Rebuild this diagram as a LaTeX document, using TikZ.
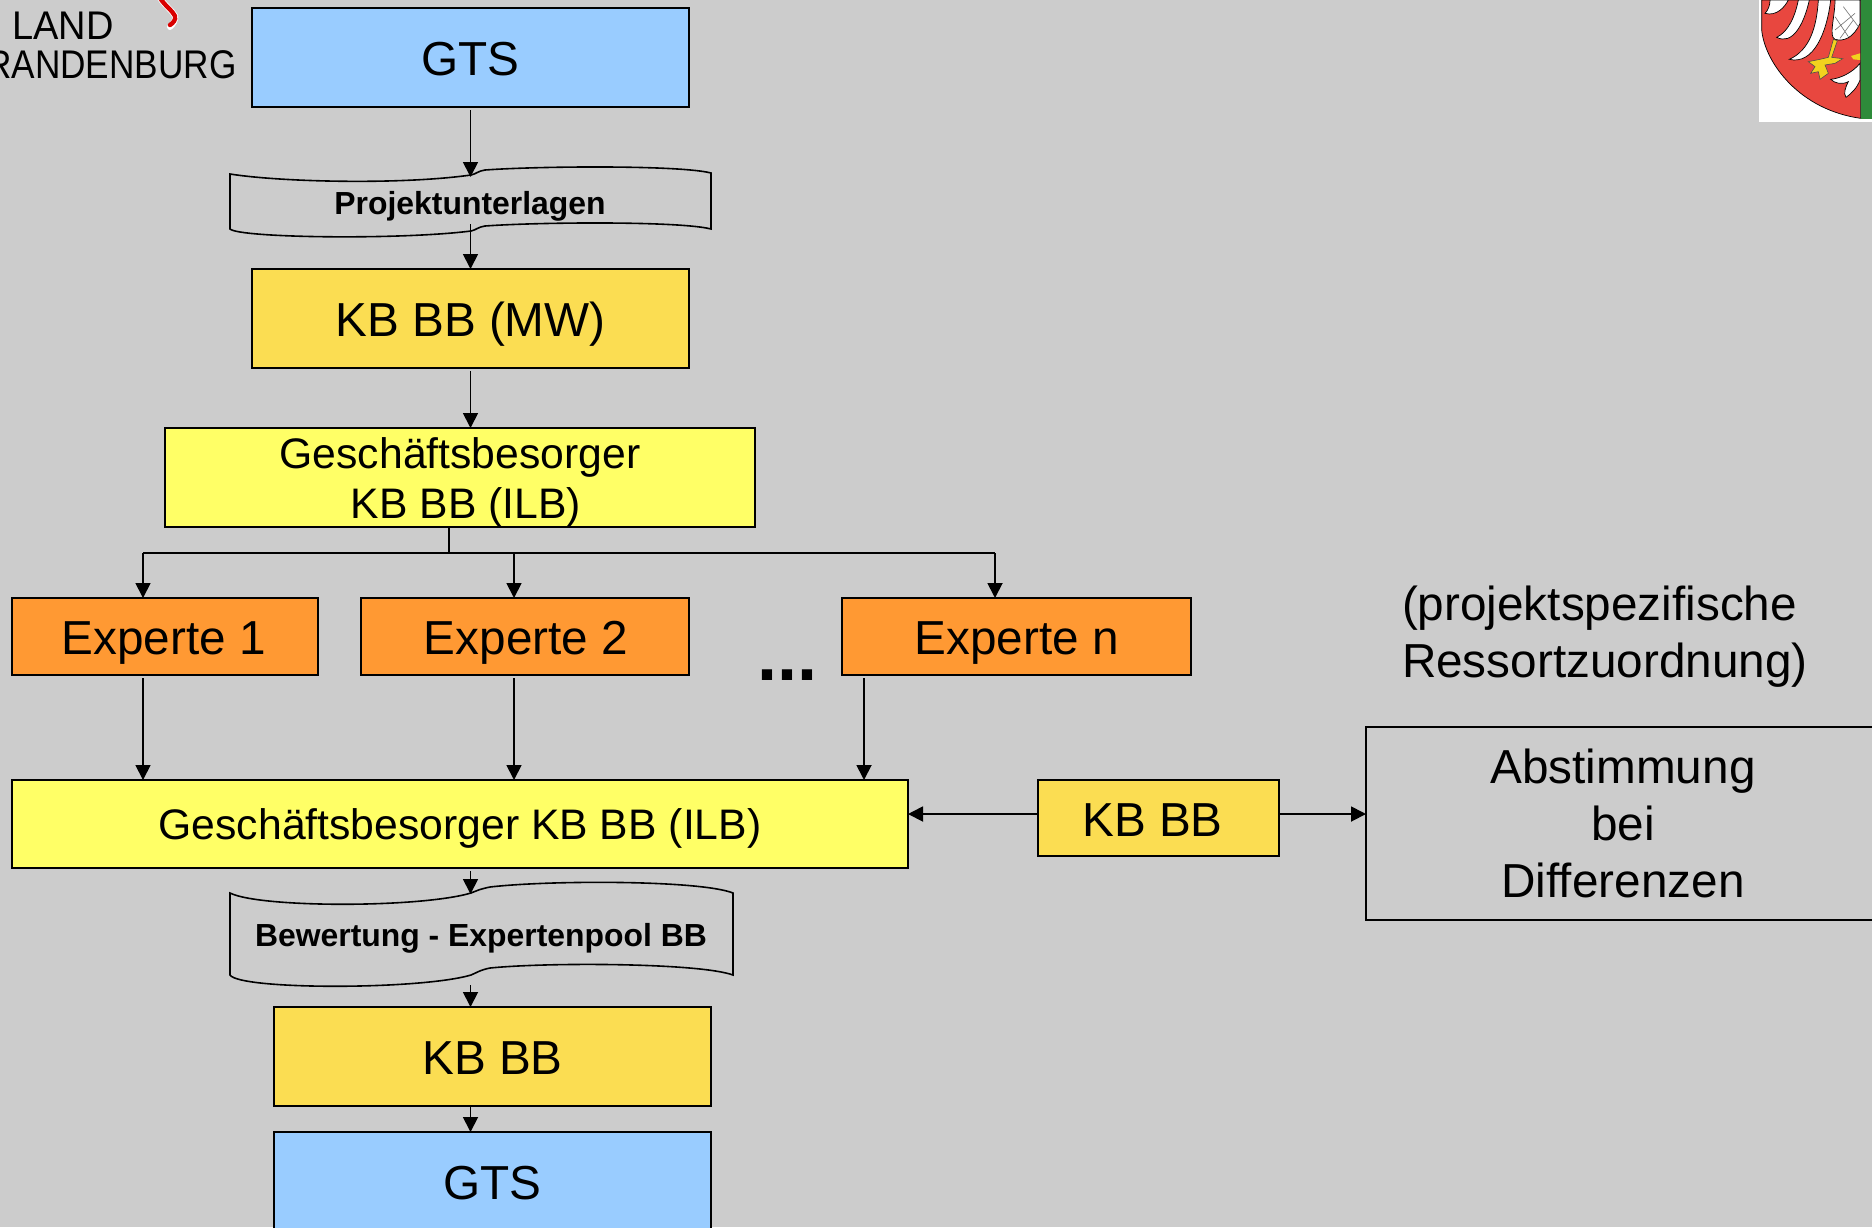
\documentclass[tikz,border=0pt]{standalone}
\usepackage{fontspec}
\usepackage{graphicx}
\setmainfont{Liberation Sans}
\usetikzlibrary{arrows.meta}
\definecolor{bgc}{HTML}{CCCCCC}
\definecolor{blueb}{HTML}{99CCFF}
\definecolor{goldb}{HTML}{FBDD52}
\definecolor{yelb}{HTML}{FFFF66}
\definecolor{orab}{HTML}{FF9933}
\definecolor{shieldred}{HTML}{E8473F}
\definecolor{shieldgreen}{HTML}{2E8B3A}
\definecolor{clawy}{HTML}{F2D21E}
\newcommand{\fsz}[1]{\fontsize{#1}{#1}\selectfont}
\tikzset{
  x=0.5pt,y=-0.5pt,
  box/.style={draw=black,line width=1pt,outer sep=0pt,inner sep=0pt,align=center,font=\fsz{23.85}},
  onebox/.style={box,text height=18.3pt,text depth=0pt},
  gbbox/.style={box,font=\fsz{21.35}},
  plain/.style={inner sep=0pt,outer sep=0pt,align=left,font=\fsz{23.85}},
  wavel/.style={inner sep=0pt,outer sep=0pt,font=\bfseries\fsz{15.95}},
  wave/.style={draw=black,line width=0.8pt},
  arr/.style={draw=black,line width=0.9pt,-{Triangle[length=7.5pt,width=7.5pt]}},
  dbl/.style={draw=black,line width=0.9pt},
  feather/.style={fill=white,draw=black,line width=0.35pt},
}
\begin{document}
\begin{tikzpicture}
\useasboundingbox (0,0) rectangle (1872,1227);
\fill[bgc] (0,0) rectangle (1872,1227);

% logo
\node[inner sep=0pt,anchor=base] (land) at (63,39) {\fsz{20}\scalebox{0.95}[1]{LAND}};
\node[inner sep=0pt,anchor=base east] (brand) at (237,78) {\fsz{20}\scalebox{0.88}[1]{BRANDENBURG}};
\draw[white,line width=3pt,line cap=round] (160,-2) .. controls (166,7) and (172,10) .. (175,16) .. controls (176,20) and (173,24) .. (170,27);
\draw[red!85!black,line width=2.2pt,line cap=round] (160,-2) .. controls (166,7) and (172,10) .. (175,16) .. controls (176,20) and (173,23) .. (170,25);

% coat of arms
\begin{scope}[shift={(1720,0)},xscale=1/3,yscale=1/3]
\fill[white] (117,0) rectangle (456,365);
\filldraw[fill=shieldred,draw=black,line width=0.35pt] (125,0) -- (125,90) .. controls (135,190) and (240,330) .. (422,355) -- (422,0) -- cycle;
\fill[shieldgreen] (422,0) rectangle (456,358);
\path[feather] (150,0) .. controls (150,15) and (145,30) .. (135,40) .. controls (170,50) and (195,20) .. (205,0) -- cycle;
\path[feather] (235,0) .. controls (225,50) and (205,95) .. (170,112) .. controls (215,135) and (250,80) .. (268,0) -- cycle;
\path[feather] (295,0) .. controls (290,80) and (270,150) .. (208,178) .. controls (280,195) and (320,100) .. (332,0) -- cycle;
\path[feather] (345,0) .. controls (345,50) and (325,110) .. (345,118) .. controls (370,125) and (400,115) .. (420,70) -- (420,0) -- cycle;
\draw[black!55,line width=0.3pt] (345,50) -- (385,110) (345,90) -- (405,40) (370,20) -- (415,80) (360,115) -- (400,60);
\path[feather] (420,190) .. controls (395,220) and (360,235) .. (332,238) .. controls (345,250) and (365,255) .. (385,245) .. controls (375,265) and (370,280) .. (378,292) .. controls (395,280) and (410,265) .. (420,240) -- cycle;
\fill[clawy] (393,168) -- (420,160) -- (420,180) -- (400,178) -- cycle;
\filldraw[fill=clawy,draw=black!70,line width=0.3pt] (340,118) -- (352,122) -- (335,172) -- (368,176) -- (345,190) -- (315,195) -- (325,220) -- (300,238) -- (295,215) -- (272,220) -- (285,200) -- (265,185) -- (300,178) -- (325,172) -- cycle;
\end{scope}

% boxes
\node[onebox,fill=blueb,minimum width=218.5pt,minimum height=49.5pt] (gts1) at (470.5,57.5) {GTS};
\node[onebox,fill=goldb,minimum width=218.5pt,minimum height=49.5pt] (kbmw) at (470.5,318.5) {KB BB (MW)};
\node[gbbox,fill=yelb,minimum width=295pt,minimum height=49.5pt] (gb1) at (460,477.5) {};
\node[inner sep=0pt,align=center,font=\fsz{21.35},execute at begin node={\baselineskip=25pt}] (gb1t) at (460,482.5) {Geschäftsbesorger\\\hspace*{6pt}KB BB (ILB)};
\node[onebox,fill=orab,minimum width=153pt,minimum height=38.5pt] (ex1) at (165,636.5) {Experte 1\hspace*{1.2pt}};
\node[onebox,fill=orab,minimum width=164pt,minimum height=38.5pt] (ex2) at (525,636.5) {\hspace*{1pt}Experte 2};
\node[onebox,fill=orab,minimum width=174.5pt,minimum height=38.5pt] (exn) at (1016.5,636.5) {Experte n};
\node[gbbox,text height=15.3pt,text depth=0pt,fill=yelb,minimum width=448pt,minimum height=44pt] (gb2) at (460,824) {Geschäftsbesorger KB BB (ILB)};
\node[onebox,fill=goldb,minimum width=120.5pt,minimum height=38pt] (kb2) at (1158.5,818) {KB BB\hspace*{6pt}};
\node[box,minimum width=257pt,minimum height=96.5pt,execute at begin node={\baselineskip=28.6pt}] (abst) at (1623,823.5) {Abstimmung\\bei\\Differenzen};
\node[onebox,fill=goldb,minimum width=218.5pt,minimum height=49.5pt] (kb3) at (492.5,1056) {KB BB};
\node[onebox,fill=blueb,minimum width=218.5pt,minimum height=49.5pt] (gts2) at (492.5,1181) {GTS};

% wave 1
\path[wave] (230,174) .. controls (280,182) and (400,185) .. (471,175) .. controls (476,174) and (478,171) .. (485,170) .. controls (540,166) and (680,165) .. (711,173) -- (711,229) .. controls (680,221) and (540,222) .. (485,226) .. controls (478,227) and (476,230) .. (471,231) .. controls (400,240) and (240,238) .. (230,229) -- cycle;
\node[wavel] (w1) at (470,206.5) {Projektunterlagen};
% wave 2
\path[wave] (230,893) .. controls (260,908) and (420,908) .. (471,893) .. controls (476,891) and (480,889) .. (490,887) .. controls (550,880) and (700,880) .. (733,893) -- (733,975) .. controls (700,963) and (550,962) .. (490,968) .. controls (480,970) and (476,973) .. (471,975) .. controls (420,990) and (240,990) .. (230,975) -- cycle;
\node[wavel] (w2) at (481,938) {Bewertung - Expertenpool BB};

% free texts
\node[plain,anchor=base west] (dots) at (757,680) {\fontsize{36}{36}\selectfont\bfseries ...};
\node[plain,anchor=north west,execute at begin node={\baselineskip=28.3pt}] (proj) at (1402,586) {(projektspezifische\\Ressortzuordnung)};

% connectors
\coordinate (w1t) at (470.5,177);
\coordinate (w1b) at (470.5,224);
\coordinate (w2t) at (470.5,894);
\coordinate (w2b) at (470.5,985);
\coordinate (br) at (449,553);
\coordinate (c1) at (143,553);
\coordinate (c2) at (514,553);
\coordinate (c3) at (995,553);
\coordinate (c4) at (864,553);
\coordinate (k3t) at (470.5,1007);
\coordinate (g2t) at (470.5,1132);
\coordinate (kl) at (1038,814);
\coordinate (kr) at (1279,814);

\draw[arr] (gts1.south) ++(0,3) -- (w1t);
\draw[arr] (w1b) -- (kbmw.north);
\draw[arr] (kbmw.south) ++(0,3) -- (gb1.north -| kbmw.south);
\draw[dbl] (gb1.south -| br) -- (br);
\draw[dbl] (c1) -- (c3);
\draw[arr] (c1) -- (ex1.north -| c1);
\draw[arr] (c2) -- (ex2.north -| c2);
\draw[arr] (c3) -- (exn.north -| c3);
\draw[arr] (ex1.south -| c1) ++(0,3) -- (gb2.north -| c1);
\draw[arr] (ex2.south -| c2) ++(0,3) -- (gb2.north -| c2);
\draw[arr] (exn.south -| c4) ++(0,3) -- (gb2.north -| c4);
\draw[arr] (kl) -- (gb2.east |- kl);
\draw[arr] (kr) -- (abst.west |- kr);
\draw[arr] (gb2.south -| w2t) ++(0,3) -- (w2t);
\draw[arr] (w2b) -- (k3t);
\draw[arr] (kb3.south -| k3t) -- (g2t);
\end{tikzpicture}
\end{document}
